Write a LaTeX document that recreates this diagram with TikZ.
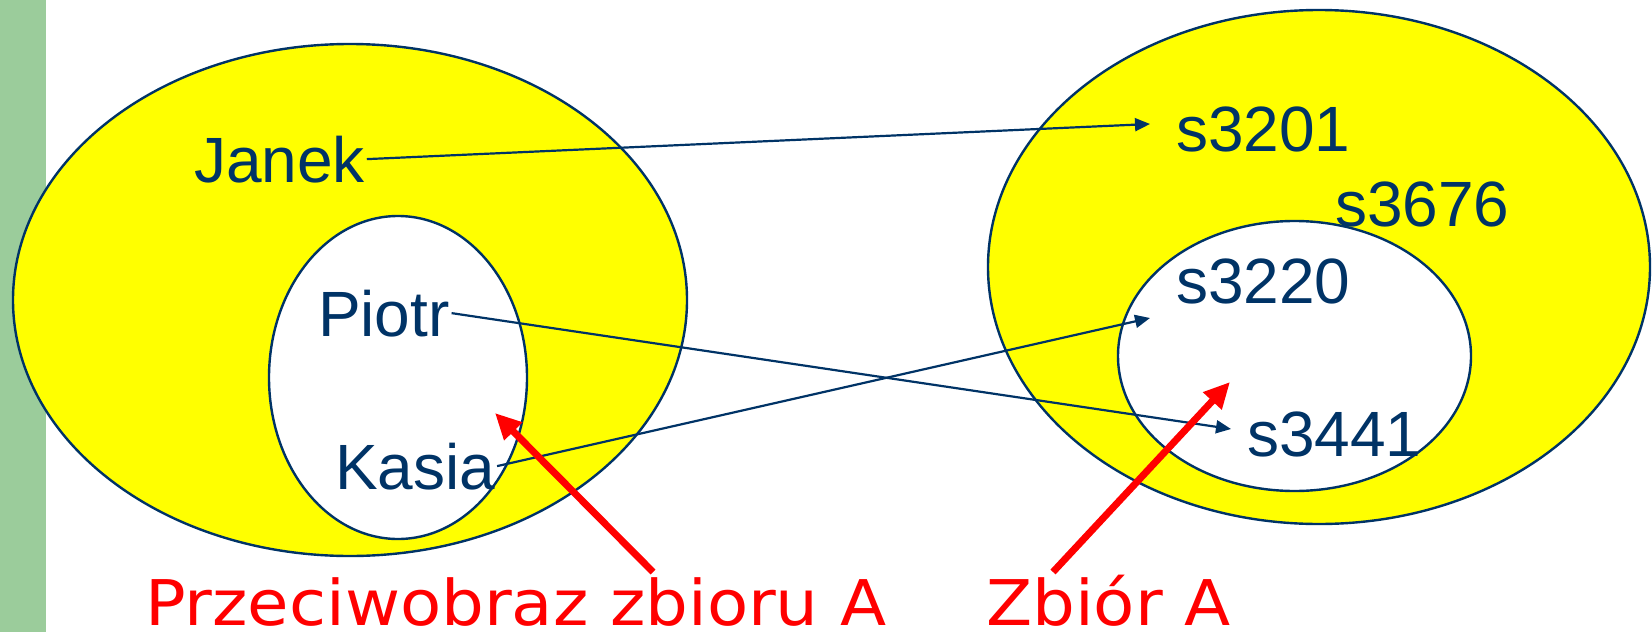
\documentclass[tikz,border=0pt]{standalone}
\usepackage{fontspec}
\setmainfont{Liberation Sans}
\newfontfamily\labelfont[FakeStretch=1.07]{DejaVu Sans}
\usetikzlibrary{arrows.meta}
\definecolor{navy}{RGB}{0,51,102}
\definecolor{sidebar}{RGB}{155,204,155}
\definecolor{setyellow}{RGB}{255,255,0}
\begin{document}
\begin{tikzpicture}[x=1pt,y=-1pt,
  outerset/.style={draw=navy,line width=2.4pt,fill=setyellow},
  innerset/.style={draw=navy,line width=2.4pt,fill=white},
  elem/.style={anchor=base west,inner sep=0pt,outer sep=2pt,text=navy,
    font=\fontsize{64}{72}\selectfont},
  caption/.style={anchor=base west,inner sep=0pt,text=red,
    font=\labelfont\fontsize{63}{70}\selectfont},
  mapsto/.style={draw=navy,line width=2.2pt,-{Triangle[length=15pt,width=13pt]}},
  pointer/.style={draw=red,line width=7pt,-{Triangle[length=26pt,width=24pt]}}]
\useasboundingbox (0,0) rectangle (1652,632);
% side bar
\fill[sidebar] (0,0) rectangle (46,632);
% domain: all students, with the preimage inside
\path[outerset] (350,300) ellipse [x radius=337,y radius=256];
\path[innerset] (398,377.5) ellipse [x radius=129,y radius=161.5];
% codomain: all identifiers, with set A inside
\path[outerset] (1319,267) ellipse [x radius=331,y radius=257];
\path[innerset] (1294.5,356) ellipse [x radius=176.5,y radius=135];
% elements
\node[elem] (janek) at (192,182) {Janek};
\node[elem] (piotr) at (316,336) {Piotr};
\node[elem] (kasia) at (333,489) {Kasia};
\node[elem] (s3201) at (1174,151) {s3201};
\node[elem] (s3676) at (1333,226) {s3676};
\node[elem] (s3220) at (1174,303) {s3220};
\node[elem] (s3441) at (1245,456) {s3441};
% captions
\node[caption] (preimage) at (145,625) {Przeciwobraz zbioru A};
\node[caption] (setA) at (986,625) {Zbiór A};
% arrow tips and pointer ends
\coordinate (to3201) at (1150,124);
\coordinate (to3220) at (1150,318);
\coordinate (to3441) at (1231,429);
\coordinate (pre-tail) at (653,572);
\coordinate (pre-tip) at (495,413);
\coordinate (set-tail) at (1053,572);
\coordinate (set-tip) at (1230,382);
% the mapping
\draw[mapsto] (janek.east) -- (to3201);
\draw[mapsto] (piotr.east) -- (to3441);
\draw[mapsto] (kasia.east) -- (to3220);
% caption pointers
\draw[pointer] (pre-tail) -- (pre-tip);
\draw[pointer] (set-tail) -- (set-tip);
\end{tikzpicture}
\end{document}
